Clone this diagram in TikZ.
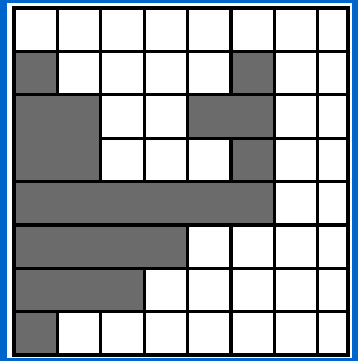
\documentclass[tikz,border=0pt]{standalone}
\definecolor{frameblue}{RGB}{0,102,204}
\definecolor{shade}{gray}{0.42}
\tikzset{
  gridline/.style={line width=3.2pt, black},
  shadedbox/.style={fill=shade, draw=black, line width=3.2pt},
  outerline/.style={line width=3.6pt, black}
}
\begin{document}
\begin{tikzpicture}[x=1pt,y=-1pt]
\useasboundingbox (0,0) rectangle (358,361);
\fill[frameblue] (0,0) rectangle (358,361);
\fill[white] (7,3.5) rectangle (351.5,358);
\begin{scope}[shift={(14,8)}, x=43.4pt, y=-43.4pt]
  % grid lines
  \foreach \i in {1,...,7} \draw[gridline] (\i,0) -- (\i,8);
  \foreach \j in {1,...,7} \draw[gridline] (0,\j) -- (7.696,\j);
  % shaded regions
  \draw[shadedbox] (0,1) rectangle (1,2);
  \draw[shadedbox] (5,1) rectangle (6,2);
  \draw[shadedbox] (0,2) rectangle (2,4);
  \draw[shadedbox] (4,2) rectangle (6,3);
  \draw[shadedbox] (5,3) rectangle (6,4);
  \draw[shadedbox] (0,4) rectangle (6,5);
  \draw[shadedbox] (0,5) rectangle (4,6);
  \draw[shadedbox] (0,6) rectangle (3,7);
  \draw[shadedbox] (0,7) rectangle (1,8);
  % outer border
  \draw[outerline] (0,0) rectangle (7.696,8);
\end{scope}
\end{tikzpicture}
\end{document}
